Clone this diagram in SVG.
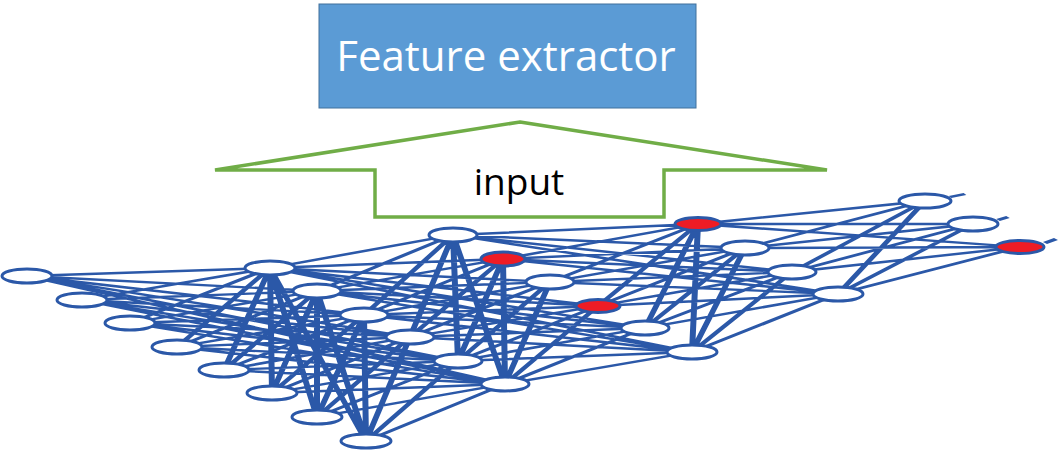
<svg xmlns="http://www.w3.org/2000/svg" width="1058" height="459" viewBox="0 0 1058 459">
<style>
.nd{fill:#ffffff;stroke:#2B58A8;stroke-width:3}
.red{fill:#EE1C25}
.cn{fill:none;stroke:#2B58A8;stroke-width:6}
.lbl{font-family:"Open Sans","Liberation Sans",sans-serif;text-anchor:middle}
</style>
<rect width="1058" height="459" fill="#ffffff"/>
<g id="feature-extractor">
<rect x="319" y="4" width="377" height="104" fill="#5B9BD5" stroke="#41719C" stroke-width="1"/>
<text class="lbl" x="506" y="71" font-size="42" fill="#ffffff">Feature extractor</text>
</g>
<g id="input-arrow">
<path d="M520 122 L827 170 L664 170 L664 217 L375 217 L375 170 L215 170 Z" fill="#ffffff" stroke="#70AD47" stroke-width="3.5" stroke-linejoin="miter"/>
<text class="lbl" x="519" y="195" font-size="37" fill="#000000">input</text>
</g>
<g id="connectors" transform="scale(1,0.4)">
<path class="cn" d="M27 690L270 670M27 690L317 727.5M27 690L364 787.5M27 690L410 842.5M27 690L458 902.5M27 690L505 960
M82 750L270 670M82 750L317 727.5M82 750L364 787.5M82 750L410 842.5M82 750L458 902.5M82 750L505 960
M130 807.5L270 670M130 807.5L317 727.5M130 807.5L364 787.5M130 807.5L410 842.5M130 807.5L458 902.5M130 807.5L505 960
M177 867.5L270 670M177 867.5L317 727.5M177 867.5L364 787.5M177 867.5L410 842.5M177 867.5L458 902.5M177 867.5L505 960
M224 925L270 670M224 925L317 727.5M224 925L364 787.5M224 925L410 842.5M224 925L458 902.5M224 925L505 960
M272 982.5L270 670M272 982.5L317 727.5M272 982.5L364 787.5M272 982.5L410 842.5M272 982.5L458 902.5M272 982.5L505 960
M317 1042.5L270 670M317 1042.5L317 727.5M317 1042.5L364 787.5M317 1042.5L410 842.5M317 1042.5L458 902.5M317 1042.5L505 960
M366 1102.5L270 670M366 1102.5L317 727.5M366 1102.5L364 787.5M366 1102.5L410 842.5M366 1102.5L458 902.5M366 1102.5L505 960"/>
<path class="cn" d="M270 670L453 587.5M270 670L503 647.5M270 670L550 705M270 670L598 765M270 670L645 820M270 670L692 880
M317 727.5L453 587.5M317 727.5L503 647.5M317 727.5L550 705M317 727.5L598 765M317 727.5L645 820M317 727.5L692 880
M364 787.5L453 587.5M364 787.5L503 647.5M364 787.5L550 705M364 787.5L598 765M364 787.5L645 820M364 787.5L692 880
M410 842.5L453 587.5M410 842.5L503 647.5M410 842.5L550 705M410 842.5L598 765M410 842.5L645 820M410 842.5L692 880
M458 902.5L453 587.5M458 902.5L503 647.5M458 902.5L550 705M458 902.5L598 765M458 902.5L645 820M458 902.5L692 880
M505 960L453 587.5M505 960L503 647.5M505 960L550 705M505 960L598 765M505 960L645 820M505 960L692 880"/>
<path class="cn" d="M453 587.5L698 560M453 587.5L745 620M453 587.5L792 680M453 587.5L838 735
M503 647.5L698 560M503 647.5L745 620M503 647.5L792 680M503 647.5L838 735
M550 705L698 560M550 705L745 620M550 705L792 680M550 705L838 735
M598 765L698 560M598 765L745 620M598 765L792 680M598 765L838 735
M645 820L698 560M645 820L745 620M645 820L792 680M645 820L838 735
M692 880L698 560M692 880L745 620M692 880L792 680M692 880L838 735"/>
<path class="cn" d="M698 560L925 502.5M698 560L973 560M698 560L1020 617.5
M745 620L925 502.5M745 620L973 560M745 620L1020 617.5
M792 680L925 502.5M792 680L973 560M792 680L1020 617.5
M838 735L925 502.5M838 735L973 560M838 735L1020 617.5"/>
<path class="cn" d="M950 492.5L965 485M998 550L1008 542.5M1045 607.5L1056 597.5"/>
</g>
<g id="layer1">
<ellipse id="n1-1" class="nd" cx="27" cy="276" rx="25" ry="7"/>
<ellipse id="n1-2" class="nd" cx="82" cy="300" rx="25" ry="7"/>
<ellipse id="n1-3" class="nd" cx="130" cy="323" rx="25" ry="7"/>
<ellipse id="n1-4" class="nd" cx="177" cy="347" rx="25" ry="7"/>
<ellipse id="n1-5" class="nd" cx="224" cy="370" rx="25" ry="7"/>
<ellipse id="n1-6" class="nd" cx="272" cy="393" rx="25" ry="7"/>
<ellipse id="n1-7" class="nd" cx="317" cy="417" rx="25" ry="7"/>
<ellipse id="n1-8" class="nd" cx="366" cy="441" rx="25" ry="7"/>
</g>
<g id="layer2">
<ellipse id="n2-1" class="nd" cx="270" cy="268" rx="25" ry="7"/>
<ellipse id="n2-2" class="nd" cx="317" cy="291" rx="24" ry="7"/>
<ellipse id="n2-3" class="nd" cx="364" cy="315" rx="24" ry="7"/>
<ellipse id="n2-4" class="nd" cx="410" cy="337" rx="24" ry="7"/>
<ellipse id="n2-5" class="nd" cx="458" cy="361" rx="24" ry="7"/>
<ellipse id="n2-6" class="nd" cx="505" cy="384" rx="24" ry="7"/>
</g>
<g id="layer3">
<ellipse id="n3-1" class="nd" cx="453" cy="235" rx="24" ry="7"/>
<ellipse id="n3-2" class="nd red" cx="503" cy="259" rx="22" ry="7"/>
<ellipse id="n3-3" class="nd" cx="550" cy="282" rx="24" ry="7"/>
<ellipse id="n3-4" class="nd red" cx="598" cy="306" rx="22" ry="6.5"/>
<ellipse id="n3-5" class="nd" cx="645" cy="328" rx="24" ry="7"/>
<ellipse id="n3-6" class="nd" cx="692" cy="352" rx="25" ry="7"/>
</g>
<g id="layer4">
<ellipse id="n4-1" class="nd red" cx="698" cy="224" rx="23" ry="6.5"/>
<ellipse id="n4-2" class="nd" cx="745" cy="248" rx="24" ry="7"/>
<ellipse id="n4-3" class="nd" cx="792" cy="272" rx="24" ry="7"/>
<ellipse id="n4-4" class="nd" cx="838" cy="294" rx="25" ry="7"/>
</g>
<g id="layer5">
<ellipse id="n5-1" class="nd" cx="925" cy="201" rx="26" ry="7"/>
<ellipse id="n5-2" class="nd" cx="973" cy="224" rx="25" ry="7"/>
<ellipse id="n5-3" class="nd red" cx="1020" cy="247" rx="24" ry="6.5"/>
</g>
</svg>
